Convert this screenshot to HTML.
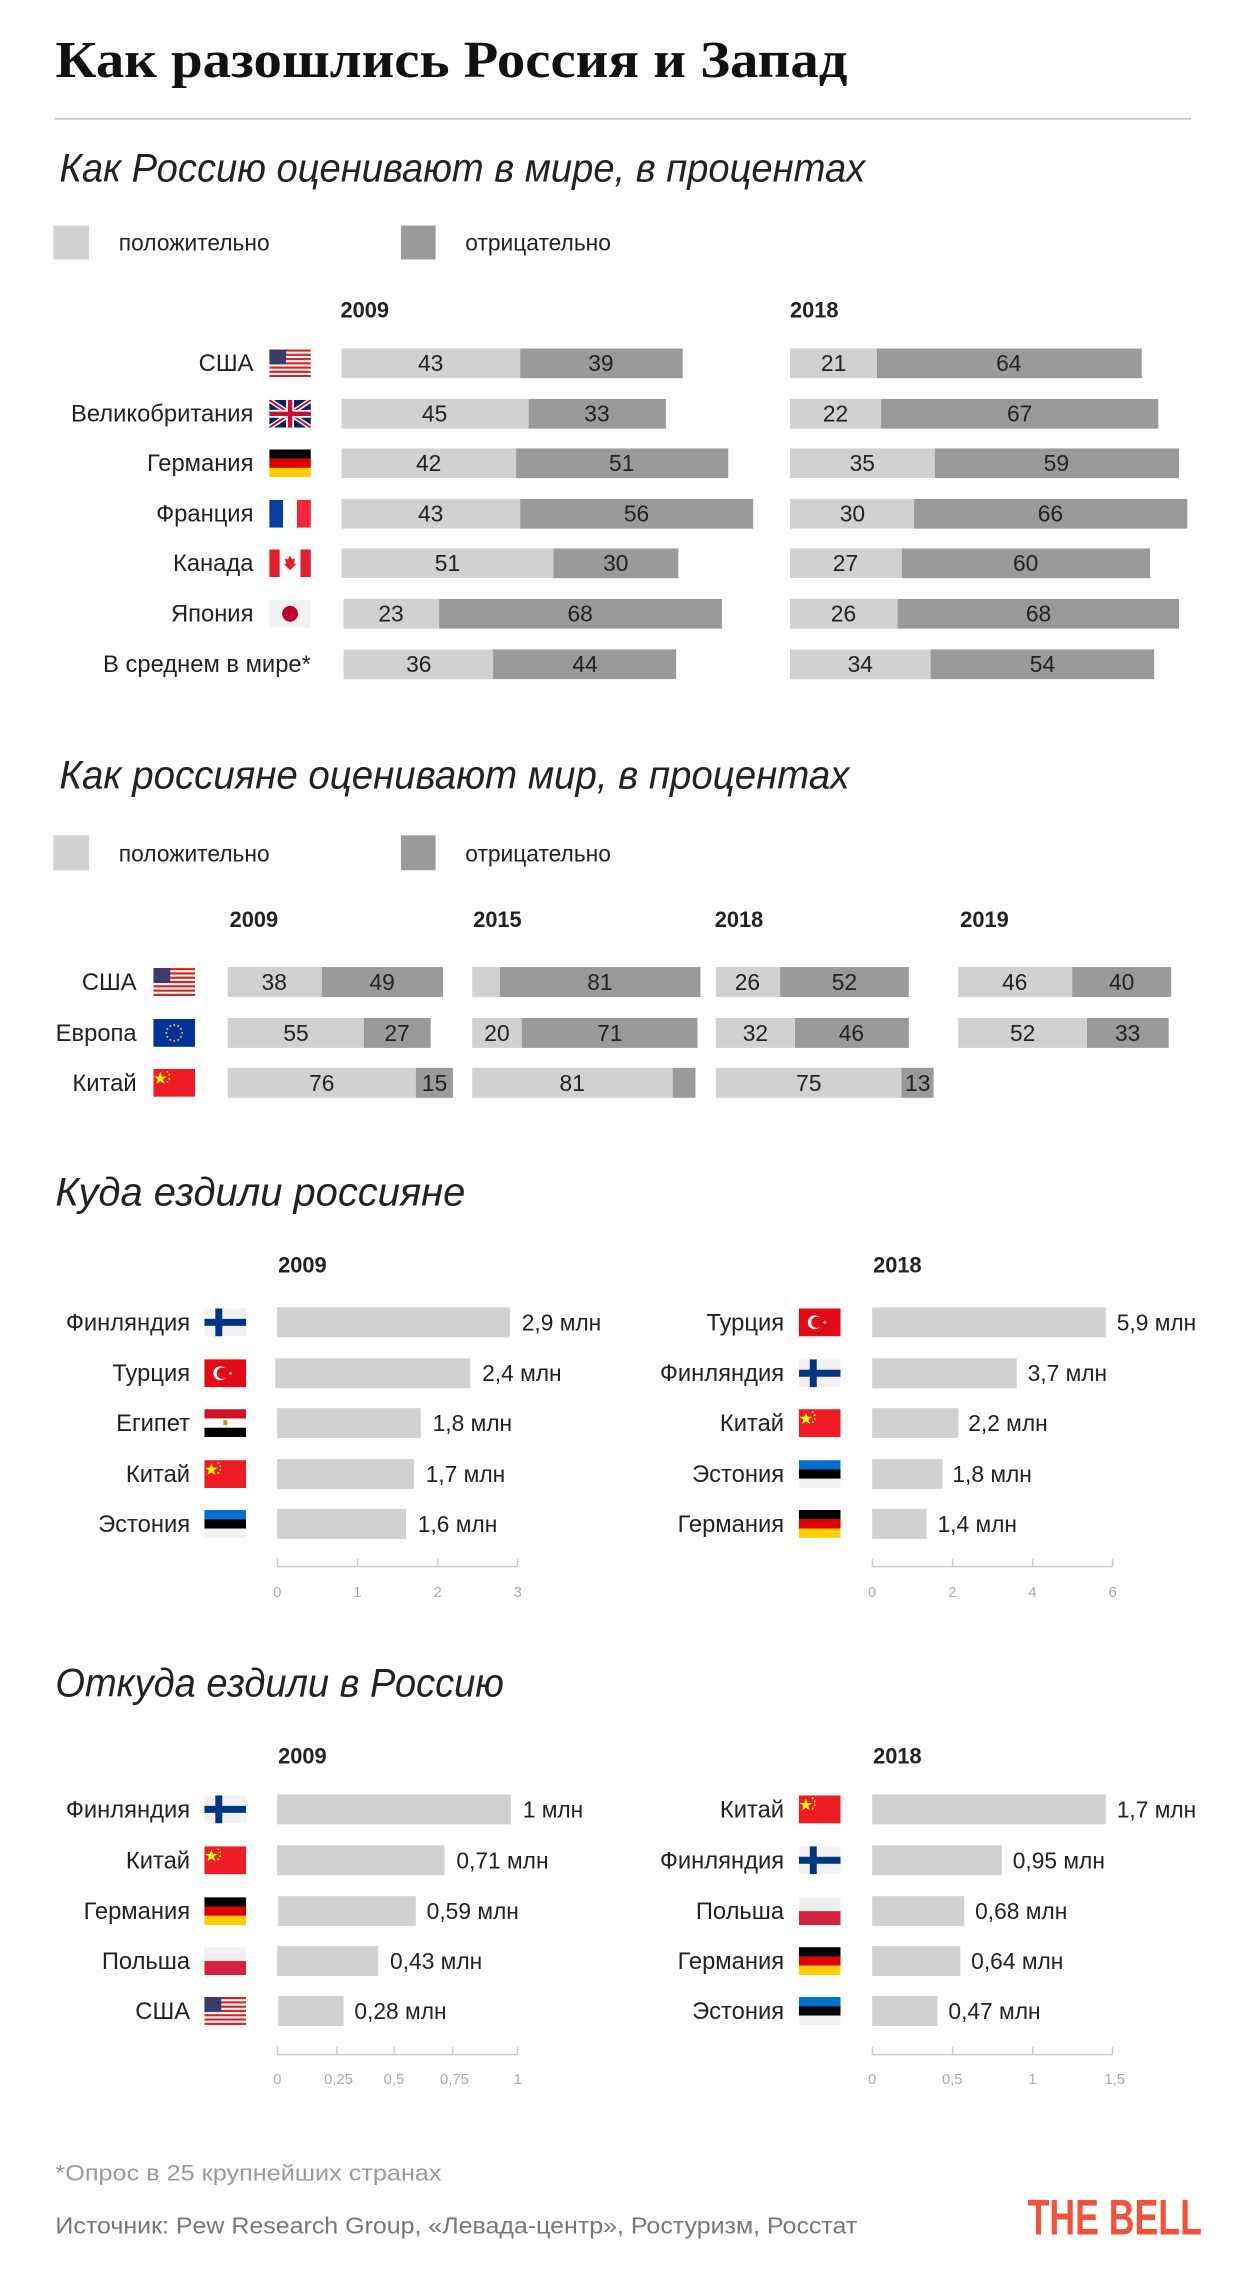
<!DOCTYPE html>
<html><head><meta charset="utf-8"><style>
html,body{margin:0;padding:0;background:#fff}
svg{display:block}
text{font-family:"Liberation Sans","DejaVu Sans",sans-serif;fill:#222}
.t{font-family:"Liberation Serif",serif;font-weight:bold;font-size:52px;fill:#111}
.h{font-style:italic;font-size:40px;fill:#222}
.lab{font-size:24px;text-anchor:end}
.n{font-size:23px;text-anchor:middle}
.v{font-size:23px}
.y{font-size:22px;font-weight:bold}
.lg{font-size:23px}
.ax{font-size:15px;fill:#aaa;text-anchor:middle}
.L{fill:#d1d1d1}.D{fill:#9a9a9a}
</style></head><body>
<svg width="1240" height="2282" viewBox="0 0 1240 2282" xmlns="http://www.w3.org/2000/svg">
<defs>
<symbol id="us" viewBox="0 0 42 28"><rect width="42" height="28" fill="#fff"/><g fill="#d22"><rect y="0" width="42" height="2.2"/><rect y="4.3" width="42" height="2.2"/><rect y="8.6" width="42" height="2.2"/><rect y="12.9" width="42" height="2.2"/><rect y="17.2" width="42" height="2.2"/><rect y="21.5" width="42" height="2.2"/><rect y="25.8" width="42" height="2.2"/></g><rect width="17" height="15" fill="#3c3b6e"/></symbol>
<symbol id="uk" viewBox="0 0 42 28"><rect width="42" height="28" fill="#012169"/><path d="M0 0L42 28M42 0L0 28" stroke="#fff" stroke-width="5"/><path d="M0 0L42 28M42 0L0 28" stroke="#c8102e" stroke-width="2"/><path d="M21 0V28M0 14H42" stroke="#fff" stroke-width="8"/><path d="M21 0V28M0 14H42" stroke="#c8102e" stroke-width="4.5"/></symbol>
<symbol id="de" viewBox="0 0 42 28"><rect width="42" height="9.4" fill="#000"/><rect y="9.3" width="42" height="9.4" fill="#d00"/><rect y="18.6" width="42" height="9.4" fill="#ffce00"/></symbol>
<symbol id="fr" viewBox="0 0 42 28"><rect width="14" height="28" fill="#0a3da0"/><rect x="14" width="14" height="28" fill="#fff"/><rect x="28" width="14" height="28" fill="#f0283a"/></symbol>
<symbol id="ca" viewBox="0 0 42 28"><rect width="42" height="28" fill="#fff"/><rect width="10.5" height="28" fill="#e0202a"/><rect x="31.5" width="10.5" height="28" fill="#e0202a"/><path d="M21 6l2 4 3-1-1 6 3-1-7 7-7-7 3 1-1-6 3 1z" fill="#e0202a"/></symbol>
<symbol id="jp" viewBox="0 0 42 28"><rect width="42" height="28" fill="#f2f2f2"/><circle cx="21" cy="14" r="8" fill="#bc002d"/></symbol>
<symbol id="eu" viewBox="0 0 42 28"><rect width="42" height="28" fill="#003399"/><g fill="#fc0"><circle cx="21" cy="6" r="1"/><circle cx="25" cy="7.1" r="1"/><circle cx="27.9" cy="10" r="1"/><circle cx="29" cy="14" r="1"/><circle cx="27.9" cy="18" r="1"/><circle cx="25" cy="20.9" r="1"/><circle cx="21" cy="22" r="1"/><circle cx="17" cy="20.9" r="1"/><circle cx="14.1" cy="18" r="1"/><circle cx="13" cy="14" r="1"/><circle cx="14.1" cy="10" r="1"/><circle cx="17" cy="7.1" r="1"/></g></symbol>
<symbol id="cn" viewBox="0 0 42 28"><rect width="42" height="28" fill="#ee1c25"/><path d="M7 3l1.6 4.6h4.8l-3.9 2.8 1.5 4.6-4-2.8-4 2.8 1.5-4.6-3.9-2.8h4.8z" fill="#ff0"/><g fill="#ff0"><circle cx="14" cy="3" r="1"/><circle cx="16" cy="6" r="1"/><circle cx="16" cy="10" r="1"/><circle cx="14" cy="13" r="1"/></g></symbol>
<symbol id="fi" viewBox="0 0 42 28"><rect width="42" height="28" fill="#f2f2f2"/><rect x="11" width="7" height="28" fill="#003580"/><rect y="10.5" width="42" height="7" fill="#003580"/></symbol>
<symbol id="tr" viewBox="0 0 42 28"><rect width="42" height="28" fill="#e30a17"/><circle cx="16" cy="14" r="7" fill="#fff"/><circle cx="18" cy="14" r="5.6" fill="#e30a17"/><path d="M24 14l4-1.5-2.5 3.4v-3.8l2.5 3.4z" fill="#fff"/></symbol>
<symbol id="eg" viewBox="0 0 42 28"><rect width="42" height="9.4" fill="#ce1126"/><rect y="9.3" width="42" height="9.4" fill="#fff"/><rect y="18.6" width="42" height="9.4" fill="#000"/><rect x="19" y="11" width="4" height="5" fill="#c09300"/></symbol>
<symbol id="ee" viewBox="0 0 42 28"><rect width="42" height="9.4" fill="#0072ce"/><rect y="9.3" width="42" height="9.4" fill="#000"/><rect y="18.6" width="42" height="9.4" fill="#f2f2f2"/></symbol>
<symbol id="pl" viewBox="0 0 42 28"><rect width="42" height="14" fill="#f0f0f0"/><rect y="14" width="42" height="14" fill="#d4213d"/></symbol>
</defs>
<g transform="scale(0.99,0.998)">
<text class="t" x="56" y="77" textLength="800" lengthAdjust="spacingAndGlyphs">Как разошлись Россия и Запад</text>
<rect x="55" y="118" width="1148" height="2" fill="#ccc"/>

<!-- Section 1 -->
<text class="h" x="60" y="182" textLength="814" lengthAdjust="spacingAndGlyphs">Как Россию оценивают в мире, в процентах</text>
<rect x="54" y="226" width="36" height="34" class="L"/><text class="lg" x="120" y="251">положительно</text>
<rect x="405" y="226" width="35" height="34" class="D"/><text class="lg" x="470" y="251">отрицательно</text>
<text class="y" x="344" y="318">2009</text><text class="y" x="798" y="318">2018</text>

<g transform="translate(0,-2) scale(1,0.992)">
<text class="lab" x="256" y="377">США</text><use href="#us" x="272" y="355" width="42" height="28"/>
<rect x="345" y="354" width="181" height="30" class="L"/><rect x="525.6" y="354" width="164" height="30" class="D"/>
<text class="n" x="435" y="377">43</text><text class="n" x="607" y="377">39</text>
<rect x="798" y="354" width="88" height="30" class="L"/><rect x="885.8" y="354" width="267.5" height="30" class="D"/>
<text class="n" x="842" y="377">21</text><text class="n" x="1019" y="377">64</text>

<text class="lab" x="256" y="428">Великобритания</text><use href="#uk" x="272" y="406" width="42" height="28"/>
<rect x="345" y="405" width="189" height="30" class="L"/><rect x="534" y="405" width="138.6" height="30" class="D"/>
<text class="n" x="439" y="428">45</text><text class="n" x="603" y="428">33</text>
<rect x="798" y="405" width="92" height="30" class="L"/><rect x="890" y="405" width="280" height="30" class="D"/>
<text class="n" x="844" y="428">22</text><text class="n" x="1030" y="428">67</text>

<text class="lab" x="256" y="478">Германия</text><use href="#de" x="272" y="456" width="42" height="28"/>
<rect x="345" y="455" width="177" height="30" class="L"/><rect x="521.4" y="455" width="214.2" height="30" class="D"/>
<text class="n" x="433" y="478">42</text><text class="n" x="628" y="478">51</text>
<rect x="798" y="455" width="147" height="30" class="L"/><rect x="944.3" y="455" width="246.6" height="30" class="D"/>
<text class="n" x="871" y="478">35</text><text class="n" x="1067" y="478">59</text>

<text class="lab" x="256" y="529">Франция</text><use href="#fr" x="272" y="507" width="42" height="28"/>
<rect x="345" y="506" width="181" height="30" class="L"/><rect x="525.6" y="506" width="235.2" height="30" class="D"/>
<text class="n" x="435" y="529">43</text><text class="n" x="643" y="529">56</text>
<rect x="798" y="506" width="126" height="30" class="L"/><rect x="923.4" y="506" width="275.9" height="30" class="D"/>
<text class="n" x="861" y="529">30</text><text class="n" x="1061" y="529">66</text>

<text class="lab" x="256" y="579">Канада</text><use href="#ca" x="272" y="557" width="42" height="28"/>
<rect x="345" y="556" width="215" height="30" class="L"/><rect x="559.2" y="556" width="126" height="30" class="D"/>
<text class="n" x="452" y="579">51</text><text class="n" x="622" y="579">30</text>
<rect x="798" y="556" width="113" height="30" class="L"/><rect x="910.9" y="556" width="250.8" height="30" class="D"/>
<text class="n" x="854" y="579">27</text><text class="n" x="1036" y="579">60</text>

<text class="lab" x="256" y="630">Япония</text><use href="#jp" x="272" y="608" width="42" height="28"/>
<rect x="347" y="607" width="97" height="30" class="L"/><rect x="443.6" y="607" width="285.6" height="30" class="D"/>
<text class="n" x="395" y="630">23</text><text class="n" x="586" y="630">68</text>
<rect x="798" y="607" width="109" height="30" class="L"/><rect x="906.7" y="607" width="284.2" height="30" class="D"/>
<text class="n" x="852" y="630">26</text><text class="n" x="1049" y="630">68</text>

<text class="lab" x="314" y="681">В среднем в мире*</text>
<rect x="347" y="658" width="152" height="30" class="L"/><rect x="498.2" y="658" width="184.8" height="30" class="D"/>
<text class="n" x="423" y="681">36</text><text class="n" x="591" y="681">44</text>
<rect x="798" y="658" width="143" height="30" class="L"/><rect x="940.1" y="658" width="225.7" height="30" class="D"/>
<text class="n" x="869" y="681">34</text><text class="n" x="1053" y="681">54</text>
</g>

<!-- Section 2 -->
<text class="h" x="60" y="790" textLength="798" lengthAdjust="spacingAndGlyphs">Как россияне оценивают мир, в процентах</text>
<rect x="54" y="837" width="36" height="35" class="L"/><text class="lg" x="120" y="863">положительно</text>
<rect x="405" y="837" width="35" height="35" class="D"/><text class="lg" x="470" y="863">отрицательно</text>
<text class="y" x="232" y="929">2009</text><text class="y" x="478" y="929">2015</text><text class="y" x="722" y="929">2018</text><text class="y" x="970" y="929">2019</text>

<text class="lab" x="138" y="992">США</text><use href="#us" x="154" y="970" width="44" height="28"/>
<text class="lab" x="138" y="1043">Европа</text><use href="#eu" x="154" y="1021" width="44" height="28"/>
<text class="lab" x="138" y="1093">Китай</text><use href="#cn" x="154" y="1071" width="44" height="28"/>

<rect x="230" y="969" width="95" height="30" class="L"/><rect x="325" y="969" width="122.5" height="30" class="D"/>
<text class="n" x="277" y="992">38</text><text class="n" x="386" y="992">49</text>
<rect x="230" y="1020" width="137.5" height="30" class="L"/><rect x="367.5" y="1020" width="67.5" height="30" class="D"/>
<text class="n" x="299" y="1043">55</text><text class="n" x="401" y="1043">27</text>
<rect x="230" y="1070" width="190" height="30" class="L"/><rect x="420" y="1070" width="37.5" height="30" class="D"/>
<text class="n" x="325" y="1093">76</text><text class="n" x="439" y="1093">15</text>

<rect x="477" y="969" width="28" height="30" class="L"/><rect x="505" y="969" width="202.5" height="30" class="D"/>
<text class="n" x="606" y="992">81</text>
<rect x="477" y="1020" width="50" height="30" class="L"/><rect x="527" y="1020" width="177.5" height="30" class="D"/>
<text class="n" x="502" y="1043">20</text><text class="n" x="616" y="1043">71</text>
<rect x="477" y="1070" width="202.5" height="30" class="L"/><rect x="679.5" y="1070" width="23" height="30" class="D"/>
<text class="n" x="578" y="1093">81</text>

<rect x="723" y="969" width="65" height="30" class="L"/><rect x="788" y="969" width="130" height="30" class="D"/>
<text class="n" x="755" y="992">26</text><text class="n" x="853" y="992">52</text>
<rect x="723" y="1020" width="80" height="30" class="L"/><rect x="803" y="1020" width="115" height="30" class="D"/>
<text class="n" x="763" y="1043">32</text><text class="n" x="860" y="1043">46</text>
<rect x="723" y="1070" width="187.5" height="30" class="L"/><rect x="910.5" y="1070" width="32.5" height="30" class="D"/>
<text class="n" x="817" y="1093">75</text><text class="n" x="927" y="1093">13</text>

<rect x="968" y="969" width="115" height="30" class="L"/><rect x="1083" y="969" width="100" height="30" class="D"/>
<text class="n" x="1025" y="992">46</text><text class="n" x="1133" y="992">40</text>
<rect x="968" y="1020" width="130" height="30" class="L"/><rect x="1098" y="1020" width="82.5" height="30" class="D"/>
<text class="n" x="1033" y="1043">52</text><text class="n" x="1139" y="1043">33</text>

<!-- Section 3 -->
<g transform="translate(0,-3)">
<text class="h" x="56" y="1211" textLength="414" lengthAdjust="spacingAndGlyphs">Куда ездили россияне</text>
<text class="y" x="281" y="1278">2009</text><text class="y" x="882" y="1278">2018</text>

<text class="lab" x="192" y="1336">Финляндия</text><use href="#fi" x="206" y="1314" width="43" height="28"/>
<text class="lab" x="192" y="1387">Турция</text><use href="#tr" x="206" y="1365" width="43" height="28"/>
<text class="lab" x="192" y="1437">Египет</text><use href="#eg" x="206" y="1415" width="43" height="28"/>
<text class="lab" x="192" y="1488">Китай</text><use href="#cn" x="206" y="1466" width="43" height="28"/>
<text class="lab" x="192" y="1538">Эстония</text><use href="#ee" x="206" y="1516" width="43" height="28"/>
<rect x="280" y="1313" width="235" height="30" class="L"/><text class="v" x="527" y="1336">2,9 млн</text>
<rect x="278" y="1364" width="197" height="30" class="L"/><text class="v" x="487" y="1387">2,4 млн</text>
<rect x="280" y="1414" width="145" height="30" class="L"/><text class="v" x="437" y="1437">1,8 млн</text>
<rect x="280" y="1465" width="138" height="30" class="L"/><text class="v" x="430" y="1488">1,7 млн</text>
<rect x="280" y="1515" width="130" height="30" class="L"/><text class="v" x="422" y="1538">1,6 млн</text>
<rect x="280" y="1572" width="243" height="1.5" fill="#ccc"/>
<g fill="#ccc"><rect x="279.5" y="1565" width="1.5" height="8"/><rect x="360.5" y="1565" width="1.5" height="8"/><rect x="441.5" y="1565" width="1.5" height="8"/><rect x="522" y="1565" width="1.5" height="8"/></g>
<text class="ax" x="280" y="1603">0</text><text class="ax" x="361" y="1603">1</text><text class="ax" x="442" y="1603">2</text><text class="ax" x="523" y="1603">3</text>

<text class="lab" x="792" y="1336">Турция</text><use href="#tr" x="806" y="1314" width="44" height="28"/>
<text class="lab" x="792" y="1387">Финляндия</text><use href="#fi" x="806" y="1365" width="44" height="28"/>
<text class="lab" x="792" y="1437">Китай</text><use href="#cn" x="806" y="1415" width="44" height="28"/>
<text class="lab" x="792" y="1488">Эстония</text><use href="#ee" x="806" y="1466" width="44" height="28"/>
<text class="lab" x="792" y="1538">Германия</text><use href="#de" x="806" y="1516" width="44" height="28"/>
<rect x="881" y="1313" width="236" height="30" class="L"/><text class="v" x="1128" y="1336">5,9 млн</text>
<rect x="881" y="1364" width="146" height="30" class="L"/><text class="v" x="1038" y="1387">3,7 млн</text>
<rect x="881" y="1414" width="87" height="30" class="L"/><text class="v" x="978" y="1437">2,2 млн</text>
<rect x="881" y="1465" width="71" height="30" class="L"/><text class="v" x="962" y="1488">1,8 млн</text>
<rect x="881" y="1515" width="55" height="30" class="L"/><text class="v" x="947" y="1538">1,4 млн</text>
<rect x="881" y="1572" width="243" height="1.5" fill="#ccc"/>
<g fill="#ccc"><rect x="880.5" y="1565" width="1.5" height="8"/><rect x="961.5" y="1565" width="1.5" height="8"/><rect x="1042.5" y="1565" width="1.5" height="8"/><rect x="1123" y="1565" width="1.5" height="8"/></g>
<text class="ax" x="881" y="1603">0</text><text class="ax" x="962" y="1603">2</text><text class="ax" x="1043" y="1603">4</text><text class="ax" x="1124" y="1603">6</text>
</g>

<!-- Section 4 -->
<text class="h" x="56" y="1700" textLength="453" lengthAdjust="spacingAndGlyphs">Откуда ездили в Россию</text>
<text class="y" x="281" y="1767">2009</text><text class="y" x="882" y="1767">2018</text>

<text class="lab" x="192" y="1821">Финляндия</text><use href="#fi" x="206" y="1799" width="43" height="28"/>
<text class="lab" x="192" y="1872">Китай</text><use href="#cn" x="206" y="1850" width="43" height="28"/>
<text class="lab" x="192" y="1923">Германия</text><use href="#de" x="206" y="1901" width="43" height="28"/>
<text class="lab" x="192" y="1973">Польша</text><use href="#pl" x="206" y="1951" width="43" height="28"/>
<text class="lab" x="192" y="2023">США</text><use href="#us" x="206" y="2001" width="43" height="28"/>
<rect x="280" y="1798" width="236" height="30" class="L"/><text class="v" x="528" y="1821">1 млн</text>
<rect x="280" y="1849" width="169" height="30" class="L"/><text class="v" x="461" y="1872">0,71 млн</text>
<rect x="281" y="1900" width="139" height="30" class="L"/><text class="v" x="431" y="1923">0,59 млн</text>
<rect x="280" y="1950" width="102" height="30" class="L"/><text class="v" x="394" y="1973">0,43 млн</text>
<rect x="281" y="2000" width="66" height="30" class="L"/><text class="v" x="358" y="2023">0,28 млн</text>
<rect x="280" y="2058" width="243" height="1.5" fill="#ccc"/>
<g fill="#ccc"><rect x="279.5" y="2051" width="1.5" height="8"/><rect x="339.5" y="2051" width="1.5" height="8"/><rect x="397.5" y="2051" width="1.5" height="8"/><rect x="456.5" y="2051" width="1.5" height="8"/><rect x="522" y="2051" width="1.5" height="8"/></g>
<text class="ax" x="280" y="2088">0</text><text class="ax" x="342" y="2088">0,25</text><text class="ax" x="398" y="2088">0,5</text><text class="ax" x="459" y="2088">0,75</text><text class="ax" x="523" y="2088">1</text>

<text class="lab" x="792" y="1821">Китай</text><use href="#cn" x="806" y="1799" width="44" height="28"/>
<text class="lab" x="792" y="1872">Финляндия</text><use href="#fi" x="806" y="1850" width="44" height="28"/>
<text class="lab" x="792" y="1923">Польша</text><use href="#pl" x="806" y="1901" width="44" height="28"/>
<text class="lab" x="792" y="1973">Германия</text><use href="#de" x="806" y="1951" width="44" height="28"/>
<text class="lab" x="792" y="2023">Эстония</text><use href="#ee" x="806" y="2001" width="44" height="28"/>
<rect x="881" y="1798" width="236" height="30" class="L"/><text class="v" x="1128" y="1821">1,7 млн</text>
<rect x="881" y="1849" width="131" height="30" class="L"/><text class="v" x="1023" y="1872">0,95 млн</text>
<rect x="881" y="1900" width="93" height="30" class="L"/><text class="v" x="985" y="1923">0,68 млн</text>
<rect x="881" y="1950" width="89" height="30" class="L"/><text class="v" x="981" y="1973">0,64 млн</text>
<rect x="881" y="2000" width="66" height="30" class="L"/><text class="v" x="958" y="2023">0,47 млн</text>
<rect x="881" y="2058" width="243" height="1.5" fill="#ccc"/>
<g fill="#ccc"><rect x="880.5" y="2051" width="1.5" height="8"/><rect x="961.5" y="2051" width="1.5" height="8"/><rect x="1042.5" y="2051" width="1.5" height="8"/><rect x="1123" y="2051" width="1.5" height="8"/></g>
<text class="ax" x="881" y="2088">0</text><text class="ax" x="962" y="2088">0,5</text><text class="ax" x="1043" y="2088">1</text><text class="ax" x="1126" y="2088">1,5</text>

<!-- Footer -->
<text x="56" y="2185" style="font-size:22px;fill:#9a9a9a" textLength="390" lengthAdjust="spacingAndGlyphs">*Опрос в 25 крупнейших странах</text>
<text x="56" y="2238" style="font-size:23px;fill:#777" textLength="810" lengthAdjust="spacingAndGlyphs">Источник:  Pew Research Group, «Левада-центр», Ростуризм, Росстат</text>
<text x="1038" y="2239" style="font-size:50px;font-weight:bold;fill:#f0533a" textLength="176" lengthAdjust="spacingAndGlyphs">THE BELL</text>
</g>
</svg>
</body></html>
